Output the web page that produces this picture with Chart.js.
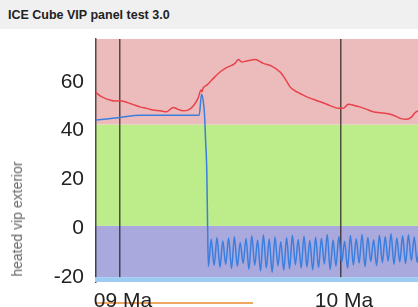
<!DOCTYPE html>
<html>
<head>
<meta charset="utf-8">
<script src="https://cdn.jsdelivr.net/npm/chart.js@4"></script>
<style>
    html, body { margin: 0; padding: 0; overflow: hidden; background: #fff; }
    body { width: 418px; height: 307px; position: relative; font-family: "Liberation Sans", Arial, sans-serif; }
    .header {
        position: absolute; top: 0; left: 0; width: 418px; height: 29px;
        background: #f0f0f0; z-index: 2;
    }
    .header span {
        position: absolute; left: 8px; top: 8px;
        font-size: 12.5px; font-weight: bold; line-height: 14px; color: #222;
    }
    .y-title {
        position: absolute; left: 17px; top: 219px; z-index: 2;
        transform: translate(-50%, -50%) rotate(-90deg);
        font-size: 14px; color: #666; white-space: nowrap;
    }
    .nav-line {
        position: absolute; left: 95px; top: 302px; width: 158px; height: 2px;
        background: #eea862; z-index: 0;
    }
    #chartCanvas { position: absolute; top: 0; left: 0; z-index: 1; }
</style>
</head>
<body>
<div class="header"><span>ICE Cube VIP panel test 3.0</span></div>
<div class="y-title">heated vip exterior</div>
<div class="nav-line"></div>
<canvas id="chartCanvas" width="418" height="340"></canvas>
<script>
// hours relative to 09 Mar 00:00
const redHours = [-2.61, -2.17, -1.63, -1.09, -0.54, 0, 0.54, 1.09, 1.63, 2.17, 2.9, 3.58, 4.34, 5.07, 5.79, 6.3, 6.84, 7.38, 7.93, 8.47, 8.8, 8.91, 9.01, 9.42, 9.96, 10.86, 11.59, 12.49, 12.85, 13.22, 13.76, 14.66, 15.56, 16.47, 17.38, 17.92, 18.46, 19.0, 19.55, 20.28, 20.99, 21.72, 22.45, 23.17, 23.71, 24.25, 24.79, 25.34, 26.06, 26.79, 27.5, 28.24, 28.96, 29.68, 30.41, 31.13, 31.67, 32.03, 32.36];
const redValues = [55.6, 54.2, 53.2, 52.5, 52.1, 52.2, 51.8, 51.1, 50.4, 49.7, 49.1, 48.4, 48.1, 47.7, 49.5, 48.7, 48.1, 48.4, 50.0, 53.2, 56.6, 55.9, 57.3, 58.6, 60.7, 64.0, 65.8, 67.5, 69.1, 68.1, 68.5, 69.1, 67.5, 66.4, 64.0, 61.3, 57.9, 56.3, 55.2, 53.8, 52.8, 51.8, 50.8, 49.7, 49.1, 49.1, 50.8, 50.4, 49.7, 48.7, 47.7, 47.3, 47.0, 46.3, 45.0, 44.6, 45.6, 47.3, 48.1];

const blueHours = [-2.61, 0, 2.17, 5.43, 8.6, 8.85, 9.05, 9.18, 9.29, 9.42, 9.5, 9.59,
    9.9, 10.22, 10.53, 10.85, 11.16, 11.48, 11.79, 12.11, 12.42, 12.74, 13.05, 13.37, 13.68, 14.0, 14.31, 14.63, 14.94, 15.26, 15.57, 15.89,
    16.2, 16.52, 16.83, 17.15, 17.46, 17.78, 18.09, 18.41, 18.72, 19.04, 19.35, 19.67, 19.98, 20.3, 20.61, 20.93, 21.24, 21.56, 21.87, 22.19,
    22.5, 22.82, 23.13, 23.45, 23.76, 24.08, 24.39, 24.71, 25.02, 25.34, 25.65, 25.97, 26.28, 26.6, 26.91, 27.23, 27.54, 27.86, 28.17, 28.49,
    28.8, 29.12, 29.43, 29.75, 30.06, 30.38, 30.69, 31.01, 31.32, 31.64, 31.95, 32.27, 32.58];
const blueValues = [44.3, 45.4, 46.3, 46.3, 46.3, 54.9, 51.7, 46.3, 36.1, 23.8, 3.4, -15.7,
    -4.5, -15.2, -3.8, -16.0, -5.2, -14.8, -4.0, -16.5, -3.5, -15.6, -5.8, -14.4, -4.2, -16.8, -3.1, -15.1, -4.9, -17.5, -2.8, -16.2,
    -4.4, -18.0, -3.6, -15.4, -5.5, -17.2, -3.9, -16.6, -2.9, -14.9, -4.6, -16.3, -3.3, -15.8, -5.0, -17.0, -3.7, -16.1, -4.1, -14.6,
    -2.6, -16.9, -4.8, -15.5, -3.4, -13.9, -5.3, -16.4, -3.0, -15.0, -4.3, -14.2, -2.5, -15.7, -3.8, -13.6, -4.7, -15.3, -2.9, -14.1,
    -3.5, -13.5, -2.2, -14.8, -4.0, -13.8, -3.1, -14.5, -2.7, -13.2, -3.6, -14.0, -2.4];

const xTickHours = [0, 24];
const xTickLabels = ['09 Ma', '10 Ma'];
const yTicks = [-20, 0, 20, 40, 60];
// band limits from bottom to top
const bandLimits = [-20, 1, 42.5];

const bandColors = ['#9ecbf2', '#a9a9dd', '#bdec8b', '#ecbcbd'];

function fillBand(chart, from, to, color) {
    const area = chart.chartArea;
    const y = chart.scales.y;
    const top = y.getPixelForValue(Math.min(to, y.max));
    const bottom = y.getPixelForValue(Math.max(from, y.min));
    chart.ctx.fillStyle = color;
    chart.ctx.fillRect(area.left - 1, top, area.right - area.left + 1, bottom - top);
}

const bandPlugin = {
    id: 'bands',
    beforeDraw(chart) {
        const ctx = chart.ctx;
        ctx.save();
        const edges = [-Infinity].concat(bandLimits, [Infinity]);
        for (let i = 1; i < edges.length - 1; i++) {
            fillBand(chart, edges[i], edges[i + 1], bandColors[i]);
        }
        ctx.restore();
    },
    afterDraw(chart) {
        // lowest band sits on top of the grid lines
        chart.ctx.save();
        fillBand(chart, -Infinity, bandLimits[0], bandColors[0]);
        chart.ctx.restore();
    }
};

const ctx = document.getElementById('chartCanvas').getContext('2d');

new Chart(ctx, {
    type: 'line',
    data: {
        datasets: [{
            label: 'outside',
            data: redHours.map((h, i) => ({ x: h, y: redValues[i] })),
            borderColor: '#e8424a',
            borderWidth: 1.5,
            pointRadius: 0,
            cubicInterpolationMode: 'monotone'
        }, {
            label: 'heated vip exterior',
            data: blueHours.map((h, i) => ({ x: h, y: blueValues[i] })),
            borderColor: '#3a7ede',
            borderWidth: 1.5,
            pointRadius: 0,
            cubicInterpolationMode: 'monotone'
        }]
    },
    options: {
        responsive: false,
        animation: false,
        events: [],
        layout: { padding: { top: 39, left: 0, right: 0, bottom: 0 } },
        plugins: {
            legend: { display: false },
            tooltip: { enabled: false }
        },
        scales: {
            x: {
                type: 'linear',
                min: -2.61,
                max: 32.36,
                afterBuildTicks: scale => { scale.ticks = xTickHours.map(v => ({ value: v })); },
                afterFit: scale => { scale.height = 58; },
                grid: {
                    color: 'rgba(40, 30, 30, 0.75)',
                    lineWidth: 1.5,
                    drawTicks: false
                },
                border: { display: false },
                ticks: {
                    padding: 7,
                    labelOffset: 3,
                    maxRotation: 0,
                    color: '#222',
                    font: { family: '"Liberation Sans", Arial', size: 21 },
                    callback: (value) => xTickLabels[xTickHours.indexOf(value)]
                }
            },
            y: {
                min: -22,
                max: 77.5,
                afterBuildTicks: scale => { scale.ticks = yTicks.map(v => ({ value: v })); },
                afterFit: scale => { scale.width = 96; },
                grid: { display: false },
                border: { display: true, color: 'rgba(40, 30, 30, 0.75)', width: 1.5 },
                ticks: {
                    padding: 4,
                    color: '#222',
                    font: { family: '"Liberation Sans", Arial', size: 21 }
                }
            }
        }
    },
    plugins: [bandPlugin]
});
</script>
</body>
</html>
